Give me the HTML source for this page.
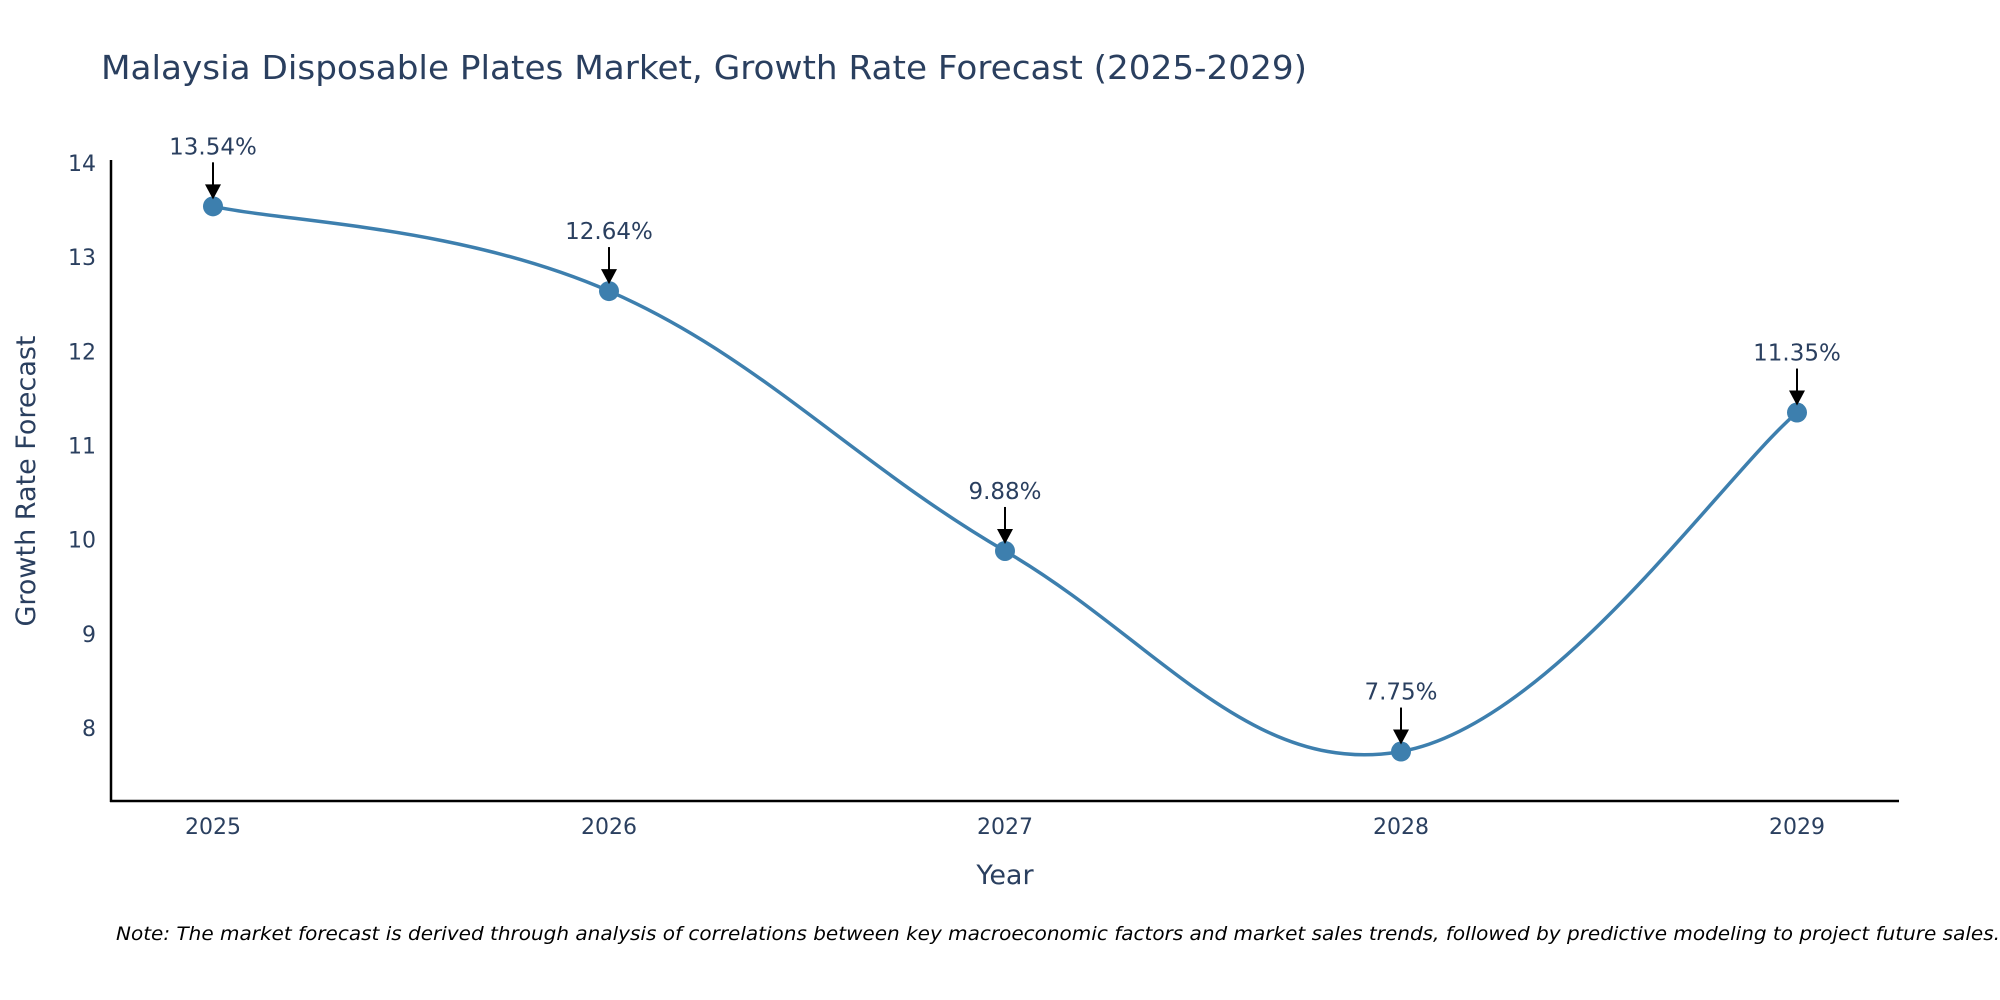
<!DOCTYPE html>
<html><head><meta charset="utf-8"><style>
body{margin:0;background:#fff}
svg{display:block;font-family:"DejaVu Sans","Liberation Sans",sans-serif}
</style></head><body>
<svg id="chart" width="2000" height="1000" viewBox="0 0 2000 1000">
<text x="101" y="79" font-size="33" fill="#2a3f5f" textLength="1206" lengthAdjust="spacingAndGlyphs">Malaysia Disposable Plates Market, Growth Rate Forecast (2025-2029)</text>
<g id="yticks"></g>
<g id="xticks"></g>
<line x1="111" y1="160" x2="111" y2="802" stroke="#000" stroke-width="2.5"/>
<line x1="110" y1="801" x2="1899" y2="801" stroke="#000" stroke-width="2.5"/>
<path id="line" fill="none" stroke="#3d7fae" stroke-width="3.5"/>
<g id="pts"></g>
<g id="ann"></g>
<text x="1005" y="884" font-size="27" fill="#2a3f5f" text-anchor="middle">Year</text>
<text transform="translate(35,481) rotate(-90)" font-size="27" fill="#2a3f5f" text-anchor="middle">Growth Rate Forecast</text>
<text x="116" y="940" font-size="19" font-style="italic" fill="#000" textLength="1884" lengthAdjust="spacingAndGlyphs">Note: The market forecast is derived through analysis of correlations between key macroeconomic factors and market sales trends, followed by predictive modeling to project future sales.</text>
</svg>
<script>
const years=["2025","2026","2027","2028","2029"];
const values=[13.54,12.64,9.88,7.75,11.35];
const yTicks=[8,9,10,11,12,13,14];
const NS="http://www.w3.org/2000/svg";
const xS=i=>213+i*(1797-213)/4;
const yS=v=>728-(v-8)*(728-163)/6;
function mk(tag,attrs,parent){const e=document.createElementNS(NS,tag);for(const k in attrs)e.setAttribute(k,attrs[k]);parent.appendChild(e);return e;}
const yt=document.getElementById('yticks');
yTicks.forEach(t=>{const e=mk('text',{x:96,y:yS(t)+8,'font-size':22,fill:'#2a3f5f','text-anchor':'end'},yt);


e.textContent=t;});
const xt=document.getElementById('xticks');
years.forEach((y,i)=>{const e=mk('text',{x:xS(i),y:834,'font-size':22,fill:'#2a3f5f','text-anchor':'middle'},xt);


e.textContent=y;});
const P=values.map((v,i)=>[xS(i),yS(v)]);
let d=`M${P[0][0]},${P[0][1]}`;const k=0.38;
for(let i=0;i<P.length-1;i++){const p0=P[Math.max(i-1,0)],p1=P[i],p2=P[i+1],p3=P[Math.min(i+2,P.length-1)];
const c1=[p1[0]+(p2[0]-p0[0])*k/2,p1[1]+(p2[1]-p0[1])*k/2],c2=[p2[0]-(p3[0]-p1[0])*k/2,p2[1]-(p3[1]-p1[1])*k/2];
d+=` C${c1[0]},${c1[1]} ${c2[0]},${c2[1]} ${p2[0]},${p2[1]}`;}
document.getElementById('line').setAttribute('d',d);
const pts=document.getElementById('pts'),ann=document.getElementById('ann');
P.forEach((p,i)=>{const c=mk('circle',{cx:p[0],cy:p[1],r:10,fill:'#3d7fae'},pts);


const a=mk('line',{x1:p[0],y1:p[1]-44,x2:p[0],y2:p[1]-20,stroke:'#000','stroke-width':2},ann);


const h=mk('polygon',{points:`${p[0]-8},${p[1]-22} ${p[0]+8},${p[1]-22} ${p[0]},${p[1]-7}`,fill:'#000'},ann);


const t=mk('text',{x:p[0],y:p[1]-52,'font-size':23,fill:'#2a3f5f','text-anchor':'middle'},ann);


t.textContent=values[i].toFixed(2)+'%';});
</script>
</body></html>
